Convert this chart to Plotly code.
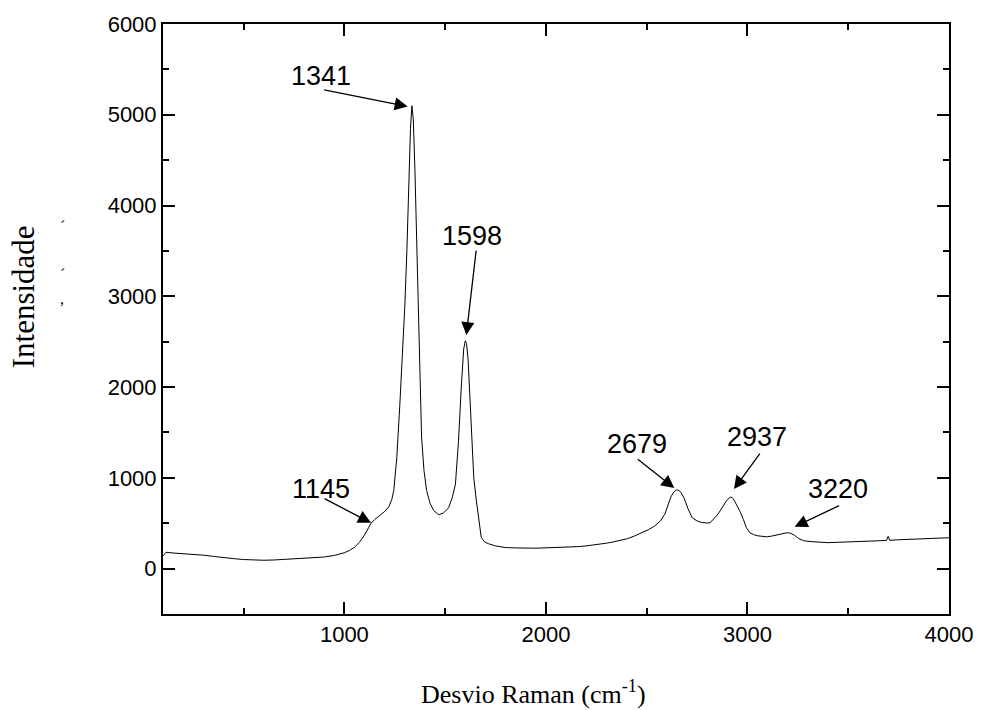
import plotly.graph_objects as go

# Raman spectrum
shift = [100, 115, 150, 200, 250, 300, 350, 400, 450, 500, 550, 600, 650, 700, 750, 800,
         850, 900, 950, 1000, 1025, 1050, 1075, 1100, 1120, 1132, 1150, 1165, 1181, 1200,
         1220, 1235, 1245, 1260, 1275, 1290, 1300, 1310, 1320, 1328, 1335, 1342, 1350,
         1360, 1369, 1383, 1395, 1408, 1425, 1443, 1467, 1490, 1517, 1535, 1551, 1566,
         1580, 1592, 1600, 1606, 1614, 1622, 1630, 1642, 1655, 1668, 1679, 1695, 1714,
         1750, 1798, 1850, 1900, 1950, 2010, 2060, 2100, 2158, 2200, 2250, 2300, 2330,
         2370, 2405, 2440, 2480, 2510, 2540, 2568, 2590, 2605, 2620, 2635, 2650, 2660,
         2670, 2686, 2705, 2726, 2750, 2770, 2785, 2800, 2815, 2830, 2850, 2864, 2880,
         2895, 2910, 2918, 2930, 2945, 2963, 2980, 2995, 3012, 3030, 3050, 3075, 3096,
         3120, 3150, 3175, 3195, 3215, 3235, 3255, 3279, 3310, 3350, 3400, 3450, 3500,
         3550, 3600, 3650, 3690, 3698, 3706, 3750, 3800, 3850, 3900, 3950, 4000]
intensity = [140, 180, 172, 165, 158, 148, 135, 120, 110, 100, 95, 92, 95, 100, 106, 112,
             118, 128, 145, 175, 200, 235, 290, 370, 450, 500, 540, 565, 590, 630,
             680, 760, 860, 1220, 1800, 2400, 2900, 3500, 4300, 4850, 5100, 4950, 4400,
             3500, 2600, 1450, 1080, 860, 720, 640, 595, 610, 670, 780, 930, 1400,
             2000, 2420, 2510, 2480, 2300, 1900, 1420, 1000, 745, 500, 345, 295, 275,
             250, 232, 228, 225, 225, 230, 232, 235, 242, 250, 262, 280, 292,
             310, 330, 360, 400, 430, 470, 525, 600, 700, 790, 845, 870, 860,
             840, 775, 660, 560, 525, 510, 505, 502, 506, 540, 590, 635, 700,
             745, 780, 790, 770, 710, 630, 540, 450, 395, 375, 362, 352, 350,
             358, 372, 385, 395, 390, 365, 330, 308, 298, 292, 286, 290, 295,
             298, 300, 305, 310, 355, 312, 318, 322, 326, 330, 335, 340]

peak_labels = ["1145", "1341", "1598", "2679", "2937", "3220"]
# arrow tips (data coords) and label centres (data coords)
tip_x = [1132, 1314, 1605, 2637, 2933, 3234]
tip_y = [504, 5091, 2573, 887, 876, 460]
lab_x = [885, 885, 1635, 2454, 3047, 3451]
lab_y = [876, 5431, 3668, 1369, 1445, 876]
# arrow tail offsets in pixels
tail_dx = [-48, -85, 10, -38, 27, 46]
tail_dy = [-25, -17, -86, -30, -37, -22]

fig = go.Figure()
fig.add_trace(go.Scatter(x=shift, y=intensity, mode="lines",
                         line=dict(color="black", width=1), showlegend=False,
                         hoverinfo="x+y"))

annotations = []
for t, tx, ty, lx, ly, dx, dy in zip(peak_labels, tip_x, tip_y, lab_x, lab_y, tail_dx, tail_dy):
    annotations.append(dict(x=tx, y=ty, xref="x", yref="y", text="", showarrow=True,
                            ax=dx, ay=dy, arrowhead=2, arrowsize=2.0, arrowwidth=1.3,
                            arrowcolor="black", standoff=0, startstandoff=0))
    annotations.append(dict(x=lx, y=ly, xref="x", yref="y", text=t, showarrow=False,
                            font=dict(family="Liberation Sans, Arial", size=27, color="black"),
                            xanchor="center", yanchor="middle"))

annotations.append(dict(x=-0.178, y=0.537, xref="paper", yref="paper", text="Intensidade",
                        showarrow=False, textangle=-90,
                        font=dict(family="Liberation Serif, Times New Roman", size=31, color="black"),
                        xanchor="center", yanchor="middle"))
annotations.append(dict(x=0.471, y=-0.133, xref="paper", yref="paper",
                        text="Desvio Raman (cm<sup>-1</sup>)", showarrow=False,
                        font=dict(family="Liberation Serif, Times New Roman", size=26, color="black"),
                        xanchor="center", yanchor="middle"))
# small stray marks beside the y title
for yy, ch in [(0.656, "ˊ"), (0.575, "ˊ"), (0.535, ",")]:
    annotations.append(dict(x=-0.128, y=yy, xref="paper", yref="paper", text=ch,
                            showarrow=False, font=dict(family="Liberation Serif", size=16, color="black"),
                            xanchor="center", yanchor="middle"))

axis_common = dict(showgrid=False, zeroline=False, showline=True, linecolor="black",
                   linewidth=2, mirror="ticks", ticks="inside", ticklen=12, tickwidth=2,
                   tickcolor="black",
                   tickfont=dict(family="Liberation Sans, Arial", size=22, color="black"))

fig.update_layout(
    width=985, height=710,
    margin=dict(l=163, r=31, t=20, b=96),
    paper_bgcolor="white", plot_bgcolor="white",
    xaxis=dict(range=[100, 4000], tick0=0, dtick=1000,
               minor=dict(ticks="inside", ticklen=6, tickwidth=2, tickcolor="black", dtick=500, tick0=0),
               **axis_common),
    yaxis=dict(range=[-500, 6000], tick0=0, dtick=1000,
               minor=dict(ticks="inside", ticklen=6, tickwidth=2, tickcolor="black", dtick=500, tick0=0),
               **axis_common),
    annotations=annotations,
)

fig.write_html("out.html", config={"displayModeBar": False},
               post_script="document.body.style.margin='0';document.body.style.overflow='hidden';")
